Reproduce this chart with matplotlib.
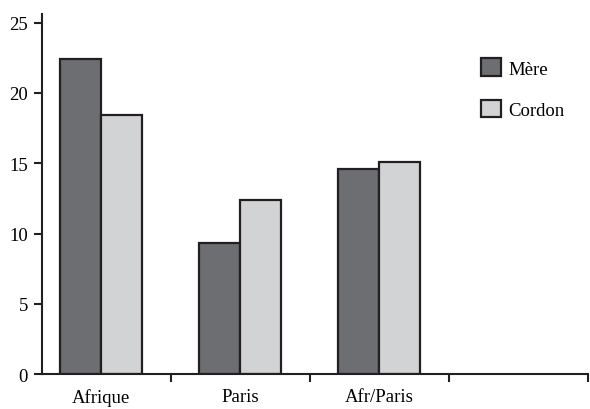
import numpy as np
import matplotlib.pyplot as plt
from matplotlib.ticker import FixedLocator

categories = ['Afrique', 'Paris', 'Afr/Paris']
mere = [22.4, 9.3, 14.6]
cordon = [18.4, 12.4, 15.1]

plt.rcParams['font.family'] = 'Liberation Serif'

fig = plt.figure(figsize=(5.9, 4.1), dpi=100)
ax = fig.add_axes([0.071, 0.085, 0.926, 0.878])

x = np.arange(len(categories))
w = 0.295
edge = '#231f20'
ax.bar(x - w / 2, mere, w, color='#6d6e71', edgecolor=edge, linewidth=1.6, label='Mère')
ax.bar(x + w / 2, cordon, w, color='#d1d3d4', edgecolor=edge, linewidth=1.6, label='Cordon')

ax.set_xlim(-0.424, 3.5)
ax.set_ylim(0, 25.6)
ax.set_yticks([0, 5, 10, 15, 20, 25])

# boundary ticks (major, no labels) and centred labels (minor, no marks)
ax.xaxis.set_major_locator(FixedLocator([0.5, 1.5, 2.5, 3.5]))
ax.xaxis.set_major_formatter(plt.NullFormatter())
ax.xaxis.set_minor_locator(FixedLocator(x))
ax.set_xticklabels(categories, minor=True)
ax.tick_params(axis='x', which='minor', length=0, pad=10, labelsize=13.5)
ax.tick_params(axis='x', which='major', length=6, width=1.5, color=edge)
ax.tick_params(axis='y', length=6, width=1.5, color=edge, labelsize=13.5, pad=4)

for s in ['top', 'right']:
    ax.spines[s].set_visible(False)
for s in ['left', 'bottom']:
    ax.spines[s].set_linewidth(1.5)
    ax.spines[s].set_color(edge)

ax.legend(loc='upper left', bbox_to_anchor=(0.804, 0.877), frameon=False,
          fontsize=13.5, handlelength=1.05, handleheight=1.05, borderpad=0,
          labelspacing=1.2, handletextpad=0.4, borderaxespad=0)

fig.savefig('out.png', dpi=100)
